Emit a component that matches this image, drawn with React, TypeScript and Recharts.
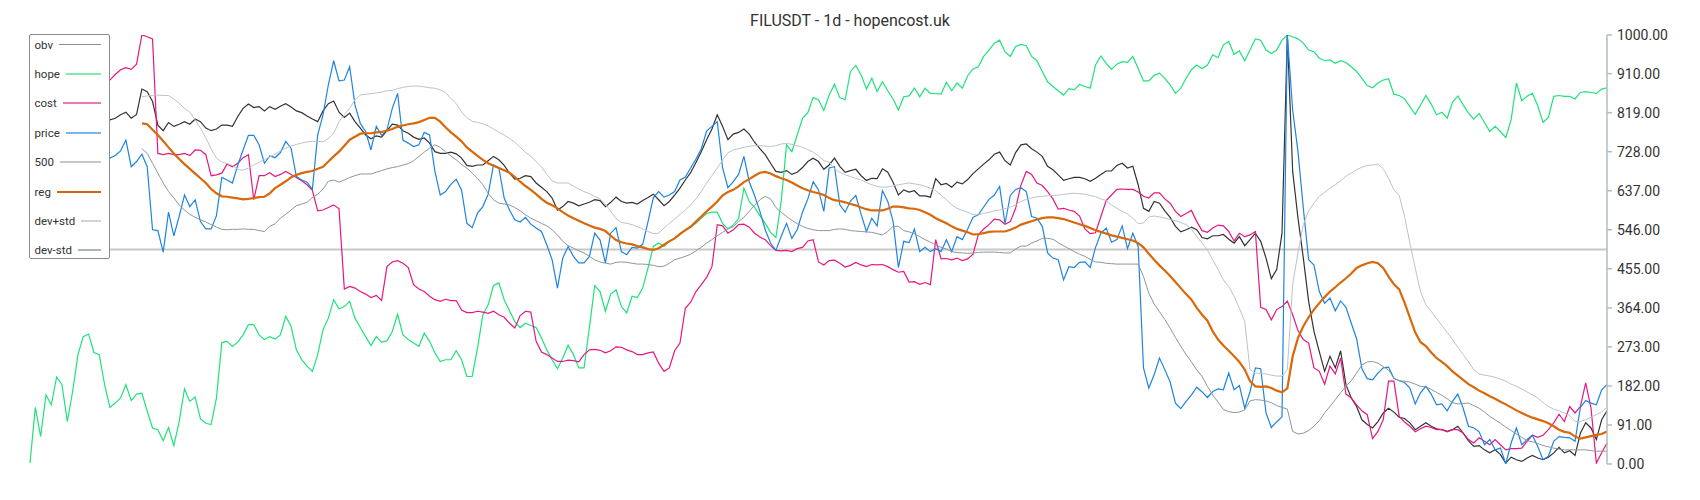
import React from 'react';
import { LineChart, Line, XAxis, YAxis, ReferenceLine } from 'recharts';

const title = 'FILUSDT - 1d - hopencost.uk';

const obv = [760,770,780,775,790,800,795,785,790,800,805,798,795,800,802,
802,806,814,820,806,815,874,868,845,790,777,796,787,792,798,792,804,798,783,777,781,790,
790,787,810,829,839,831,833,823,833,827,834,840,832,823,819,811,804,798,823,840,846,820,808,818,798,783,767,758,765,762,777,792,790,777,771,762,757,760,
748,728,724,724,727,723,713,696,694,697,697,707,717,709,696,678,664,666,672,670,655,645,635,620,592,600,612,608,602,606,610,616,614,600,610,622,612,
608,610,606,614,621,629,616,602,612,627,643,662,679,703,728,756,781,814,787,756,769,773,781,769,750,735,721,701,682,680,684,675,680,691,705,713,705,687,
697,713,694,680,684,687,672,661,666,665,688,680,657,627,639,634,637,625,625,622,665,651,654,645,657,653,663,677,688,699,709,722,727,707,697,726,744,
746,735,727,717,694,686,674,661,665,668,668,665,659,666,675,683,683,696,701,690,694,651,596,589,612,608,590,575,554,541,546,552,546,528,525,532,532,535,
524,515,530,509,523,538,519,480,432,453,538,1000,682,573,480,379,309,262,216,251,224,264,185,154,134,103,92,84,99,119,130,121,109,106,96,80,88,
96,88,82,80,76,80,88,72,54,41,43,33,26,33,22,2,16,10,6,14,20,14,10,16,26,39,26,31,20,72,96,84,57,103,124];

const hope = [2,132,64,161,138,203,185,99,169,255,297,303,260,255,185,
132,142,154,185,148,163,165,123,84,80,54,85,43,99,175,146,156,105,95,92,154,283,
286,274,284,301,325,325,301,290,297,291,301,344,321,266,243,228,216,255,313,340,383,362,367,379,340,318,297,276,297,284,287,309,349,301,290,282,274,305,
286,259,239,243,243,264,243,204,204,270,348,371,416,422,383,357,332,318,328,323,318,294,266,243,222,247,277,255,224,224,318,416,402,356,396,406,367,
352,391,388,410,457,507,515,507,520,526,538,544,553,561,573,584,587,587,561,548,557,572,643,612,598,579,561,540,528,612,744,728,767,806,819,854,849,824,
860,885,854,849,915,929,907,874,899,868,891,870,851,825,856,858,876,856,876,864,863,862,890,870,888,876,905,921,926,950,965,981,988,961,950,973,978,
975,950,940,915,891,880,870,860,875,872,885,880,876,930,951,934,920,932,938,936,950,922,893,893,906,911,899,884,864,876,899,919,930,922,930,954,947,977,
985,955,963,940,965,991,988,965,957,965,988,1000,996,991,981,965,961,946,940,942,934,940,936,926,915,899,882,877,888,895,898,862,859,851,833,815,837,
859,839,814,820,806,843,858,837,818,804,817,796,775,787,775,761,802,888,847,857,864,835,796,808,857,859,857,857,851,866,868,866,864,874,877];

const cost = [850,860,870,880,875,870,880,890,885,880,875,870,880,885,890,
895,908,919,924,920,932,1000,996,991,724,721,724,721,721,724,719,732,731,721,672,674,678,
699,693,701,714,721,616,672,672,679,670,675,682,675,668,660,651,638,590,592,598,604,595,408,414,410,402,396,388,393,381,460,471,474,468,458,418,408,402,
391,383,379,384,381,381,359,353,353,356,354,351,356,348,342,328,317,346,356,354,286,261,255,247,239,239,242,241,238,255,266,267,265,259,264,273,272,
266,262,255,255,259,261,235,216,224,264,282,363,377,402,418,435,460,558,555,538,546,558,559,552,538,529,523,509,498,497,498,495,502,505,520,523,471,464,
474,475,468,459,463,470,464,460,465,464,465,460,453,447,449,424,425,419,423,418,523,478,479,476,480,474,478,489,534,548,558,571,569,559,565,596,650,
682,675,655,649,635,618,594,596,592,589,578,548,537,539,577,614,627,640,641,640,640,634,624,620,632,632,618,608,589,577,584,591,565,544,540,550,557,555,
542,520,538,530,534,542,365,360,336,360,367,380,348,311,290,282,224,216,186,228,210,247,163,154,138,124,115,59,76,103,193,193,111,98,88,75,82,
88,85,80,80,75,80,80,72,57,49,61,53,45,57,45,33,36,36,37,53,67,62,67,80,96,116,99,134,119,134,189,130,2,26,49];

const price = [700,710,690,680,700,720,705,690,700,715,720,705,700,710,712,
713,719,730,755,693,705,722,693,546,544,494,587,532,577,627,600,616,565,548,548,579,668,
662,655,697,732,766,766,744,701,718,714,726,752,736,670,662,657,640,767,814,884,940,893,895,926,837,794,775,732,787,766,779,829,864,755,748,740,744,773,
767,682,627,635,652,664,639,561,551,585,600,629,697,691,620,592,569,564,575,559,550,542,511,476,410,480,507,484,469,469,484,538,522,469,538,551,495,
488,505,503,512,565,621,635,622,627,635,662,669,690,711,735,776,787,798,690,644,658,675,717,658,626,589,546,515,498,531,561,526,546,587,618,658,639,589,
690,693,604,587,613,626,582,542,573,555,637,612,565,458,519,516,548,495,505,495,502,495,523,495,530,523,548,575,581,599,617,627,647,560,626,640,644,
635,577,573,554,492,480,476,429,460,458,470,471,458,505,538,550,517,523,555,502,538,507,224,177,208,247,220,191,142,129,146,161,179,168,155,169,175,173,
212,173,183,130,169,224,222,119,85,98,110,1000,825,728,596,476,464,402,375,387,357,380,365,328,292,222,199,196,212,224,226,200,194,190,177,140,166,
181,163,138,140,124,146,163,130,88,84,75,45,57,33,37,0,49,84,45,57,67,41,10,18,53,64,62,61,53,132,148,142,138,173,185];

const reg = [null,null,null,null,null,null,null,null,null,null,null,null,null,null,null,null,null,null,null,null,null,
794,792,779,767,753,738,724,711,699,688,677,666,655,641,631,624,
623,621,619,617,618,620,622,623,631,643,651,659,668,674,678,681,683,688,693,705,717,728,742,756,763,770,771,771,773,774,777,781,786,789,792,794,797,802,
807,807,798,785,773,763,752,738,728,718,709,701,695,690,685,679,669,658,648,639,629,618,609,603,596,587,579,573,567,561,556,551,548,543,532,522,517,
514,512,508,505,501,499,503,511,519,526,536,545,553,565,577,589,600,612,626,634,639,647,657,664,672,679,681,677,671,666,662,656,649,643,638,634,631,627,
620,615,613,610,606,603,598,594,591,591,591,595,600,600,598,596,595,592,587,581,573,567,561,554,548,544,540,535,536,538,541,542,542,542,546,551,558,
562,566,570,573,575,575,573,571,567,563,559,555,550,545,541,537,533,530,527,524,521,515,505,490,476,463,451,438,424,410,396,383,364,348,334,309,290,276,
264,251,238,220,193,181,180,181,177,171,167,176,251,294,321,342,360,375,389,402,412,423,433,444,457,463,468,471,468,457,437,419,407,376,341,307,284,
275,260,247,238,228,216,206,196,186,179,171,165,158,152,145,139,132,125,119,113,108,104,100,95,88,80,75,73,64,59,62,65,68,70,76];

const devPlus = [null,null,null,null,null,null,null,null,null,null,null,null,null,null,null,null,null,null,null,null,null,
856,858,859,860,859,859,851,841,829,820,802,783,760,735,713,704,
700,696,686,685,690,697,703,710,716,722,730,736,741,745,748,751,752,752,751,759,771,798,814,829,849,860,862,863,865,867,870,871,875,878,880,881,881,879,
877,876,872,866,852,840,821,807,799,796,793,788,781,773,767,759,750,738,727,717,705,693,675,660,655,655,655,648,641,635,630,624,618,606,589,572,563,
561,558,553,548,542,537,538,550,561,571,582,592,604,618,635,655,672,690,709,725,732,735,738,741,742,742,741,740,742,746,747,745,742,738,733,727,718,707,
704,688,680,674,670,666,662,656,651,647,645,646,648,651,653,655,653,651,647,643,637,627,616,604,596,591,587,581,581,584,587,590,592,595,599,604,612,
617,620,623,624,625,626,627,628,630,631,630,629,626,623,618,614,604,596,589,583,573,560,562,576,578,576,573,570,567,563,558,548,530,515,499,476,453,429,
414,391,363,332,220,212,211,210,207,205,205,220,418,493,558,590,608,624,633,643,651,660,671,678,686,692,696,697,699,688,666,639,626,577,515,457,402,
371,356,339,323,307,290,272,255,238,220,210,207,205,202,198,193,186,181,175,168,161,154,143,134,128,124,119,113,99,99,103,109,115,122,132];

const devMinus = [null,null,null,null,null,null,null,null,null,null,null,null,null,null,null,null,null,null,null,null,null,
735,724,701,678,655,635,620,604,592,582,575,569,564,558,552,547,
546,547,547,548,547,547,544,542,554,560,573,582,592,602,606,610,621,629,641,659,662,657,662,668,672,676,676,676,680,684,688,691,693,697,700,707,717,727,
736,744,738,728,718,709,698,690,678,666,651,631,616,608,606,604,598,590,581,573,567,561,555,546,534,519,509,503,497,492,484,476,471,468,466,470,471,
470,468,466,466,465,463,460,461,468,476,480,484,489,497,505,515,523,532,540,548,553,565,575,589,603,616,624,618,598,587,577,568,560,554,549,546,544,544,
544,547,548,547,544,543,542,541,540,537,534,542,554,554,544,541,537,530,523,517,511,505,501,495,493,492,491,492,493,494,494,494,493,492,492,501,508,
508,515,520,526,526,524,516,509,502,495,489,484,477,471,470,468,467,466,466,466,466,466,437,398,373,355,337,317,295,274,255,238,219,204,181,161,144,127,
122,120,121,126,147,150,149,147,143,136,132,128,76,70,72,78,88,101,119,134,150,166,181,194,212,231,238,239,235,227,219,200,194,193,191,186,181,
180,174,167,160,152,143,140,141,142,136,130,121,111,103,95,86,78,70,62,54,52,48,43,40,37,35,33,33,33,33,33,31,30,30,30];

const level = 500;
const yTicks = [0, 91, 182, 273, 364, 455, 546, 637, 728, 819, 910, 1000];

const legendItems = [
  { name: 'obv', color: '#8c8c8c', width: 1.5 },
  { name: 'hope', color: '#84e9ab', width: 2 },
  { name: 'cost', color: '#ea78b4', width: 2 },
  { name: 'price', color: '#78b5ee', width: 2 },
  { name: '500', color: '#c8c8c8', width: 2 },
  { name: 'reg', color: '#d2650f', width: 2 },
  { name: 'dev+std', color: '#d0d5d9', width: 2 },
  { name: 'dev-std', color: '#abb5bd', width: 2 },
];

const FONT = 'Roboto, "Noto Sans", sans-serif';

export default function App() {
  const data = obv.map((v, i) => ({
    i,
    obv: v,
    hope: hope[i],
    cost: cost[i],
    price: price[i],
    reg: reg[i],
    devPlus: devPlus[i],
    devMinus: devMinus[i],
  }));

  return (
    <div style={{ position: 'absolute', left: 0, top: 0, width: 1700, height: 500, background: '#fff', fontFamily: FONT }}>
      <LineChart width={1700} height={500} data={data} margin={{ top: 35, right: 0, left: 30, bottom: 36 }}>
        <XAxis dataKey="i" type="number" domain={[0, obv.length - 1]} hide />
        <YAxis
          orientation="right"
          type="number"
          domain={[0, 1000]}
          ticks={yTicks}
          interval={0}
          allowDataOverflow
          width={93}
          tickFormatter={(v: number) => v.toFixed(2)}
          tick={{ fill: '#333', fontSize: 14, fontFamily: FONT }}
          tickSize={5}
          tickMargin={5}
          axisLine={{ stroke: '#b3bcc3', strokeWidth: 1.5 }}
          tickLine={{ stroke: '#b3bcc3', strokeWidth: 1.5 }}
        />
        <ReferenceLine y={level} stroke="#c8c8c8" strokeWidth={1.8} ifOverflow="extendDomain" />
        <Line type="linear" dataKey="obv" stroke="#333333" strokeWidth={1.2} dot={false} isAnimationActive={false} />
        <Line type="linear" dataKey="hope" stroke="#1ee27a" strokeWidth={1.2} dot={false} isAnimationActive={false} />
        <Line type="linear" dataKey="cost" stroke="#e6177f" strokeWidth={1.2} dot={false} isAnimationActive={false} />
        <Line type="linear" dataKey="price" stroke="#1e84e0" strokeWidth={1.2} dot={false} isAnimationActive={false} />
        <Line type="linear" dataKey="reg" stroke="#d9680a" strokeWidth={2.2} dot={false} isAnimationActive={false} />
        <Line type="linear" dataKey="devPlus" stroke="#bcc3c9" strokeWidth={1} dot={false} isAnimationActive={false} />
        <Line type="linear" dataKey="devMinus" stroke="#8c979f" strokeWidth={1} dot={false} isAnimationActive={false} />
      </LineChart>

      <div style={{ position: 'absolute', left: 0, top: 12, width: 1700, textAlign: 'center', fontSize: 16, lineHeight: '18px', color: '#333' }}>
        {title}
      </div>

      <div
        style={{
          position: 'absolute',
          left: 29,
          top: 34,
          width: 79,
          height: 223,
          border: '1.5px solid #8c8c8c',
          borderRadius: 2,
          background: '#fff',
        }}
      >
        {legendItems.map((it, k) => (
          <div
            key={it.name}
            style={{
              position: 'absolute',
              left: 4.5,
              width: 66,
              top: 9.5 + 29.4 * k - 8,
              height: 16,
              display: 'flex',
              alignItems: 'center',
            }}
          >
            <span style={{ fontSize: 11.5, color: '#333', lineHeight: '16px', whiteSpace: 'nowrap' }}>{it.name}</span>
            <span style={{ flex: 1, marginLeft: 6, height: 0, borderTop: `${it.width}px solid ${it.color}` }} />
          </div>
        ))}
      </div>
    </div>
  );
}
